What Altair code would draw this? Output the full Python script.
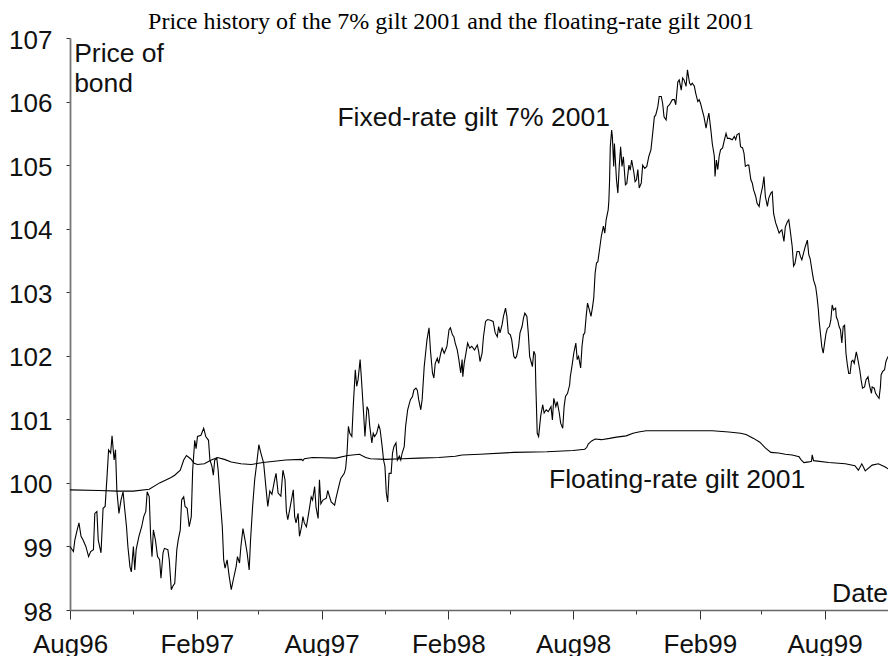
import altair as alt
import pandas as pd

# (days since 1 Aug 1996, price)
fixed_gilt = [
    (0, 99.0), (5, 98.92), (7, 99.1), (10, 99.24), (13, 99.37), (16, 99.16), (19, 99.1), (23, 99.0), (27, 98.84), (30, 98.92),
    (34, 98.95), (36, 99.52), (39, 99.55), (41, 99.1), (45, 98.9), (48, 99.6), (51, 99.63), (54, 100.15), (56, 100.52), (59, 100.47),
    (61, 100.74), (64, 100.36), (66, 100.52), (68, 99.88), (71, 99.52), (74, 99.73), (77, 99.86), (79, 99.63), (82, 99.31), (84, 99.0),
    (87, 98.68), (89, 98.6), (92, 99.0), (94, 98.63), (96, 98.95), (100, 99.16), (104, 99.31), (107, 99.47), (110, 99.55), (112, 99.86),
    (115, 99.78), (117, 99.16), (119, 98.84), (121, 99.26), (124, 99.1), (127, 98.84), (130, 98.79), (132, 98.5), (135, 98.9), (137, 98.97),
    (142, 98.95), (144, 98.79), (147, 98.32), (149, 98.37), (152, 98.42), (155, 98.95), (157, 99.1), (160, 99.26), (162, 99.73), (165, 99.78),
    (167, 99.63), (170, 99.6), (173, 99.31), (176, 99.47), (178, 100.2), (181, 100.67), (183, 100.54), (185, 100.73), (190, 100.75), (194, 100.86),
    (197, 100.73), (201, 100.67), (203, 100.36), (206, 100.26), (208, 100.12), (210, 100.36), (213, 100.39), (215, 100.2), (218, 99.73), (221, 99.31),
    (223, 98.79), (225, 98.66), (228, 98.79), (231, 98.53), (234, 98.32), (237, 98.48), (241, 98.68), (243, 98.84), (246, 98.74), (248, 99.0),
    (251, 99.28), (254, 99.1), (257, 98.9), (260, 98.63), (262, 99.1), (265, 99.63), (268, 100.05), (271, 100.31), (274, 100.6), (277, 100.47),
    (281, 100.31), (285, 99.85), (287, 99.63), (290, 99.87), (293, 99.82), (297, 100.05), (299, 100.15), (302, 99.84), (306, 99.79), (309, 100.2),
    (312, 100.05), (314, 99.55), (316, 99.42), (320, 99.65), (324, 99.89), (326, 99.47), (328, 99.37), (331, 99.52), (333, 99.16), (336, 99.31),
    (338, 99.47), (340, 99.37), (343, 99.31), (346, 99.5), (350, 99.78), (352, 99.73), (355, 99.94), (357, 99.62), (360, 99.44), (362, 100.05),
    (364, 99.67), (367, 99.73), (372, 99.76), (374, 99.88), (379, 99.7), (384, 99.65), (386, 99.76), (391, 99.99), (393, 100.07), (398, 100.15),
    (400, 100.23), (402, 100.47), (404, 100.89), (406, 100.78), (409, 100.73), (411, 101.2), (414, 101.78), (416, 101.52), (418, 101.62), (421, 101.94),
    (423, 101.62), (426, 101.1), (428, 100.73), (431, 101.2), (433, 101.15), (435, 100.89), (438, 100.63), (440, 100.78), (442, 100.73), (445, 100.78),
    (448, 100.91), (450, 100.84), (453, 100.57), (455, 100.36), (457, 100.26), (459, 99.84), (461, 99.7), (463, 100.15), (466, 100.15), (468, 100.47),
    (470, 100.57), (473, 100.63), (475, 100.36), (478, 100.42), (480, 100.36), (482, 100.47), (485, 100.57), (487, 100.89), (490, 101.15), (492, 101.23),
    (494, 101.31), (497, 101.36), (499, 101.46), (502, 101.49), (504, 101.46), (506, 101.31), (509, 101.15), (511, 101.31), (514, 101.83), (516, 102.04),
    (518, 102.25), (521, 102.44), (523, 102.09), (526, 101.73), (528, 101.65), (530, 101.88), (533, 101.96), (535, 101.88), (538, 102.04), (540, 102.12),
    (543, 102.04), (545, 102.09), (547, 102.15), (550, 102.41), (552, 102.44), (555, 102.33), (557, 102.3), (559, 102.2), (562, 102.09), (564, 101.96),
    (567, 101.73), (569, 101.94), (570, 101.67), (572, 101.88), (575, 102.07), (577, 102.2), (580, 102.12), (583, 102.15), (587, 102.09), (591, 102.17),
    (593, 102.07), (595, 101.91), (598, 102.04), (600, 102.3), (603, 102.54), (606, 102.57), (610, 102.56), (614, 102.54), (617, 102.36), (620, 102.3),
    (622, 102.46), (624, 102.36), (627, 102.49), (629, 102.62), (632, 102.75), (634, 102.62), (636, 102.36), (639, 102.33), (641, 102.25), (644, 101.99),
    (646, 101.96), (648, 101.99), (651, 102.15), (653, 102.36), (656, 102.46), (658, 102.59), (660, 102.67), (663, 102.62), (665, 102.36), (667, 101.99),
    (669, 101.91), (671, 101.83), (673, 102.07), (675, 102.02), (676, 101.52), (678, 100.78), (680, 100.73), (683, 101.05), (686, 101.23), (688, 101.1),
    (691, 101.15), (694, 101.12), (698, 101.2), (700, 100.99), (702, 101.33), (705, 101.2), (707, 101.28), (710, 101.1), (712, 100.94), (715, 100.86),
    (717, 101.2), (719, 101.36), (722, 101.41), (725, 101.54), (726, 101.67), (729, 101.88), (731, 102.04), (734, 102.2), (736, 101.94), (738, 101.99),
    (741, 101.81), (743, 102.15), (745, 102.33), (747, 102.36), (749, 102.62), (751, 102.83), (753, 102.75), (756, 102.62), (758, 102.75), (760, 102.91),
    (762, 103.3), (764, 103.46), (766, 103.48), (769, 103.72), (771, 103.88), (774, 104.04), (776, 103.93), (778, 104.14), (781, 104.3), (782, 104.45),
    (783, 104.77), (784, 105.29), (786, 105.55), (787, 105.45), (789, 104.98), (790, 105.34), (793, 104.77), (795, 104.56), (797, 104.98), (799, 105.29),
    (801, 104.98), (803, 105.13), (806, 104.69), (808, 104.71), (811, 105.0), (813, 104.92), (815, 105.08), (818, 104.9), (820, 104.74), (822, 104.77),
    (824, 104.93), (826, 104.64), (829, 104.72), (831, 105.0), (834, 104.95), (837, 104.98), (840, 105.14), (843, 105.24), (846, 105.55), (848, 105.76),
    (850, 105.79), (853, 105.92), (855, 106.08), (858, 106.08), (860, 105.97), (862, 105.76), (865, 105.71), (867, 105.92), (870, 105.95), (874, 106.03),
    (877, 106.03), (879, 105.95), (882, 106.31), (884, 106.34), (887, 106.18), (889, 106.37), (891, 106.34), (894, 106.24), (896, 106.5), (899, 106.29),
    (901, 106.26), (903, 106.29), (906, 106.24), (908, 106.13), (911, 106.0), (913, 106.03), (915, 105.97), (918, 105.84), (920, 105.76), (923, 105.58),
    (925, 105.71), (927, 105.82), (930, 105.55), (932, 105.34), (935, 105.14), (936, 104.82), (938, 105.08), (940, 104.93), (942, 105.14), (944, 105.24),
    (947, 105.27), (949, 105.37), (952, 105.5), (954, 105.42), (957, 105.42), (961, 105.4), (964, 105.45), (966, 105.4), (968, 105.48), (971, 105.5),
    (973, 105.29), (976, 105.27), (978, 105.19), (980, 104.98), (983, 105.0), (985, 105.0), (988, 104.77), (990, 104.72), (992, 104.61), (995, 104.51),
    (997, 104.4), (1000, 104.35), (1002, 104.51), (1005, 104.66), (1007, 104.82), (1009, 104.51), (1012, 104.35), (1014, 104.48), (1017, 104.56), (1019, 104.58),
    (1021, 104.24), (1024, 104.09), (1026, 104.03), (1029, 103.93), (1031, 103.96), (1033, 103.98), (1036, 103.8), (1038, 104.03), (1041, 104.11), (1043, 104.14),
    (1045, 103.98), (1048, 103.72), (1050, 103.41), (1052, 103.45), (1055, 103.64), (1058, 103.64), (1060, 103.56), (1062, 103.51), (1065, 103.64), (1067, 103.72),
    (1070, 103.82), (1072, 103.59), (1074, 103.53), (1077, 103.32), (1079, 103.19), (1082, 103.09), (1084, 102.93), (1086, 102.72), (1087, 102.56), (1089, 102.35),
    (1091, 102.14), (1093, 102.04), (1095, 102.2), (1097, 102.35), (1099, 102.43), (1102, 102.46), (1104, 102.56), (1106, 102.8), (1108, 102.72), (1111, 102.75),
    (1112, 102.61), (1114, 102.56), (1116, 102.46), (1118, 102.41), (1120, 102.2), (1122, 102.46), (1124, 102.48), (1126, 102.04), (1128, 101.86), (1130, 101.72),
    (1132, 101.72), (1134, 101.91), (1136, 101.93), (1138, 101.88), (1141, 102.06), (1143, 101.96), (1146, 101.78), (1148, 101.62), (1150, 101.49), (1153, 101.51),
    (1155, 101.62), (1158, 101.67), (1160, 101.54), (1163, 101.41), (1164, 101.51), (1167, 101.49), (1169, 101.41), (1172, 101.36), (1174, 101.33), (1176, 101.51),
    (1177, 101.7), (1179, 101.75), (1182, 101.78), (1184, 101.91), (1187, 101.99),
]

floating_gilt = [
    (0, 99.89), (42, 99.88), (69, 99.87), (92, 99.87), (115, 99.9), (130, 100.0), (146, 100.08), (152, 100.12), (160, 100.2), (165, 100.36),
    (169, 100.43), (175, 100.38), (180, 100.31), (185, 100.29), (195, 100.3), (205, 100.36), (214, 100.4), (224, 100.37), (234, 100.33), (248, 100.3),
    (263, 100.29), (280, 100.32), (313, 100.36), (336, 100.37), (338, 100.35), (340, 100.38), (352, 100.4), (386, 100.39), (403, 100.43), (420, 100.45),
    (429, 100.4), (436, 100.38), (458, 100.37), (482, 100.38), (506, 100.39), (535, 100.4), (559, 100.42), (569, 100.44), (595, 100.45), (644, 100.48),
    (692, 100.49), (730, 100.51), (747, 100.53), (750, 100.56), (752, 100.61), (757, 100.66), (762, 100.69), (771, 100.68), (783, 100.7), (793, 100.72),
    (807, 100.74), (817, 100.78), (825, 100.8), (836, 100.82), (865, 100.82), (884, 100.82), (908, 100.82), (932, 100.82), (956, 100.8), (973, 100.78),
    (981, 100.76), (992, 100.7), (1001, 100.64), (1009, 100.55), (1017, 100.48), (1028, 100.47), (1038, 100.45), (1048, 100.44), (1058, 100.41), (1061, 100.36),
    (1065, 100.32), (1072, 100.33), (1076, 100.34), (1077, 100.44), (1079, 100.35), (1101, 100.32), (1125, 100.3), (1139, 100.27), (1144, 100.2), (1149, 100.3),
    (1154, 100.19), (1164, 100.28), (1173, 100.3), (1183, 100.25), (1187, 100.22),
]

annotation_text = ["Price of", "bond", "Fixed-rate gilt 7% 2001", "Floating-rate gilt 2001", "Date"]
annotation_day = [6, 6, 388, 695, 1187]
annotation_price = [106.62, 106.15, 105.61, 99.92, 98.13]
annotation_align = ["left", "left", "left", "left", "right"]

tick_months = [(1996, 8), (1996, 11), (1997, 2), (1997, 5), (1997, 8), (1997, 11), (1998, 2),
               (1998, 5), (1998, 8), (1998, 11), (1999, 2), (1999, 5), (1999, 8), (1999, 11)]
price_ticks = [98, 99, 100, 101, 102, 103, 104, 105, 106, 107]

start = pd.Timestamp("1996-08-01")


def to_dates(days):
    return [(start + pd.Timedelta(days=int(d))).strftime("%Y-%m-%d") for d in days]


fixed_df = pd.DataFrame(fixed_gilt, columns=["day", "price"])
fixed_df["date"] = to_dates(fixed_df["day"])
float_df = pd.DataFrame(floating_gilt, columns=["day", "price"])
float_df["date"] = to_dates(float_df["day"])
ann_df = pd.DataFrame({
    "date": to_dates(annotation_day),
    "price": annotation_price,
    "text": annotation_text,
    "align": annotation_align,
})

FONT = "Liberation Sans"

x_scale = alt.Scale(
    type="utc",
    domain=[alt.DateTime(year=1996, month=8, date=1, utc=True),
            alt.DateTime(year=1999, month=11, date=1, utc=True)],
    nice=False,
)
y_scale = alt.Scale(domain=[98, 107], nice=False, zero=False)

major = "utcmonth(datum.value) == 7 || utcmonth(datum.value) == 1"
x_axis = alt.Axis(
    values=[alt.DateTime(year=y, month=m, date=1, utc=True) for y, m in tick_months],
    labelExpr=f"({major}) ? utcFormat(datum.value, '%b%y') : ''",
    tickSize={"condition": {"test": major, "value": 9}, "value": 4},
    labelPadding=12,
    labelFont=FONT,
    labelFontSize=26,
    labelColor="#111",
    labelOverlap=False,
    labelFlush=False,
    domainColor="#666",
    domainWidth=1.5,
    tickColor="#333",
    grid=False,
    title=None,
)
y_axis = alt.Axis(
    values=price_ticks,
    format="d",
    tickSize=4,
    labelPadding=14,
    labelOffset=2,
    labelFont=FONT,
    labelFontSize=26,
    labelColor="#111",
    labelOverlap=False,
    labelFlush=False,
    domainColor="#777",
    domainWidth=1.8,
    tickColor="#333",
    grid=False,
    title=None,
)

fixed_line = alt.Chart(fixed_df).mark_line(color="black", strokeWidth=1.1).encode(
    x=alt.X("date:T", scale=x_scale, axis=x_axis),
    y=alt.Y("price:Q", scale=y_scale, axis=y_axis),
    order="day:Q",
)
float_line = alt.Chart(float_df).mark_line(color="black", strokeWidth=1.1).encode(
    x=alt.X("date:T", scale=x_scale),
    y=alt.Y("price:Q", scale=y_scale),
    order="day:Q",
)

left_text = alt.Chart(ann_df).transform_filter("datum.align == 'left'").mark_text(
    align="left", baseline="alphabetic", font=FONT, fontSize=26.5, color="#111"
).encode(x=alt.X("date:T", scale=x_scale), y=alt.Y("price:Q", scale=y_scale), text="text:N")
right_text = alt.Chart(ann_df).transform_filter("datum.align == 'right'").mark_text(
    align="right", baseline="alphabetic", font=FONT, fontSize=26.5, color="#111"
).encode(x=alt.X("date:T", scale=x_scale), y=alt.Y("price:Q", scale=y_scale), text="text:N")

chart = alt.layer(fixed_line, float_line, left_text, right_text).properties(
    width=818,
    height=572,
    autosize="none",
    padding={"left": 62, "top": 30, "right": 0, "bottom": 46},
    title=alt.TitleParams(
        text="Price history of the 7% gilt 2001 and the floating-rate gilt 2001",
        font="Liberation Serif",
        fontSize=24,
        fontWeight="normal",
        color="black",
        anchor="middle",
        frame="group",
        dx=-28,
        offset=-7,
    ),
).configure_view(stroke=None)

chart.save("out.html", embed_options={"renderer": "svg", "actions": False})
